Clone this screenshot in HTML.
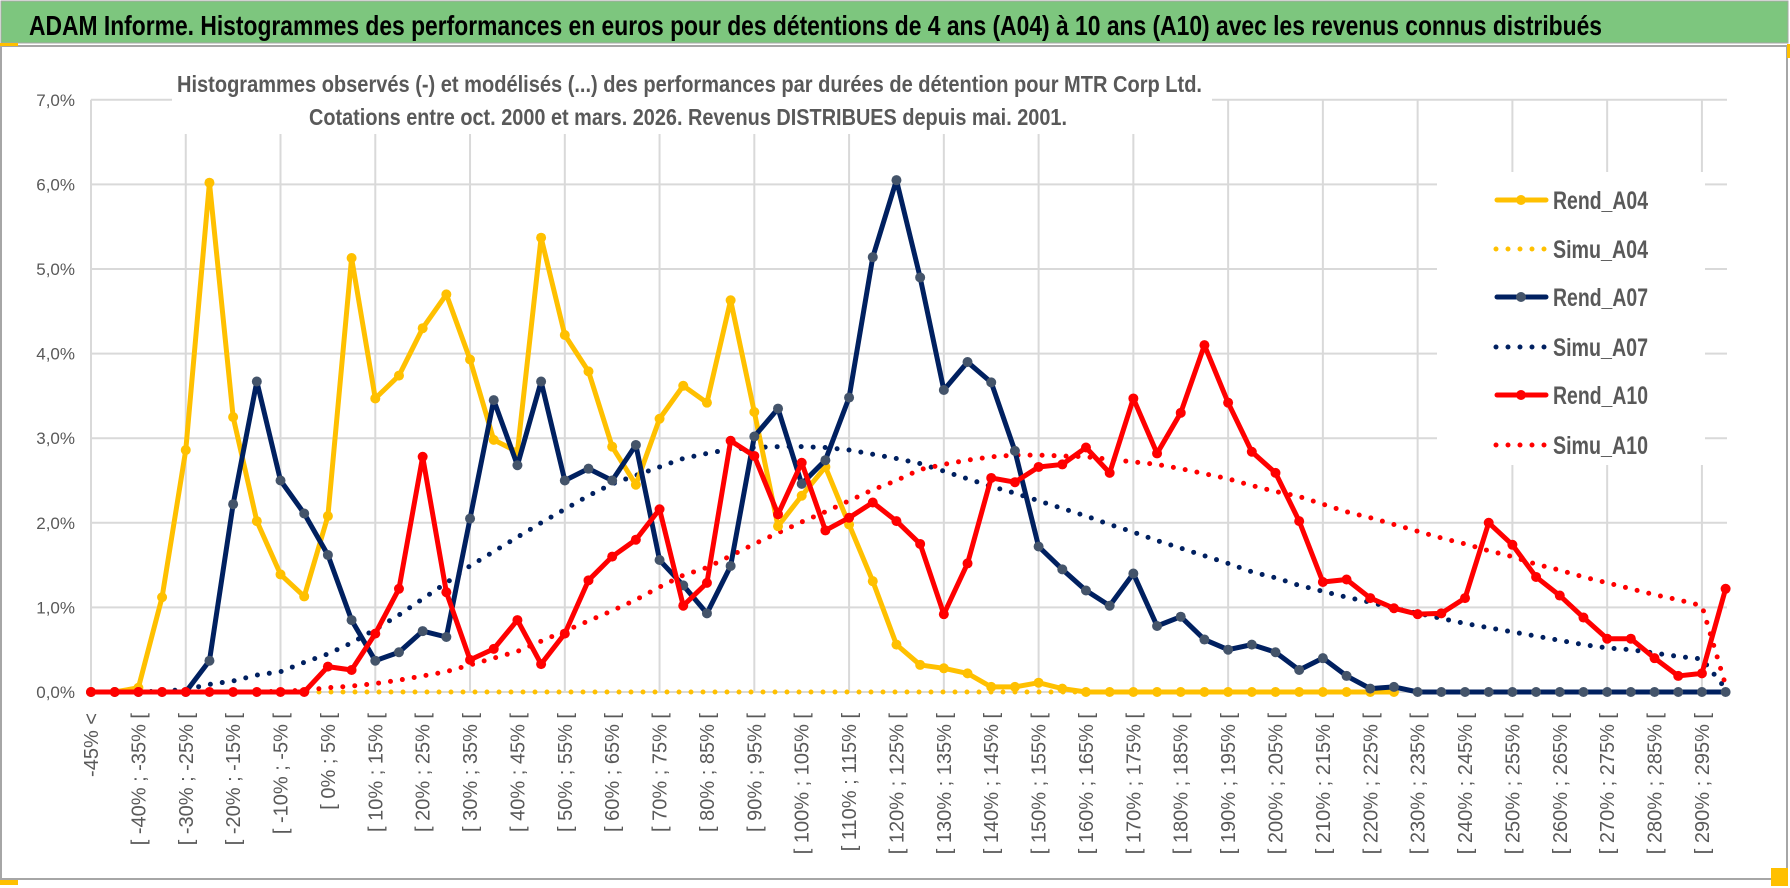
<!DOCTYPE html>
<html><head><meta charset="utf-8"><style>
html,body{margin:0;padding:0;background:#fff;}
svg{display:block;}
text{font-family:"Liberation Sans",sans-serif;}
</style></head><body>
<svg id="chart" width="1790" height="888" viewBox="0 0 1790 888" xmlns="http://www.w3.org/2000/svg">
  <rect x="0" y="0" width="1790" height="888" fill="#fff"/>
  <rect x="1" y="1" width="1787" height="42" fill="#7DC67E" stroke="#a6a6a6" stroke-width="1"/>
  <text x="29" y="35" font-size="28" font-weight="bold" fill="#000" textLength="1573" lengthAdjust="spacingAndGlyphs">ADAM Informe. Histogrammes des performances en euros pour des détentions de 4 ans (A04) à 10 ans (A10) avec les revenus connus distribués</text>
  <rect x="1" y="46" width="1786" height="833" fill="none" stroke="#a6a6a6" stroke-width="2"/>
  <rect x="0" y="43" width="18" height="3" fill="#FFC000"/>
  <rect x="0" y="880" width="18" height="5" fill="#FFC000"/>
  <rect x="1771" y="868" width="17" height="18" fill="#FFC000"/>
  <rect x="1787" y="44" width="3" height="14" fill="#FFC000"/>
  <g id="grid"></g>
  <g id="series"></g>
  <rect x="172" y="62" width="1040" height="72" fill="#fff"/>
  <text x="177" y="92" font-size="23" font-weight="bold" fill="#595959" textLength="1025" lengthAdjust="spacingAndGlyphs">Histogrammes observés (-) et modélisés (...) des performances par durées de détention pour MTR Corp Ltd.</text>
  <text x="309" y="125" font-size="23" font-weight="bold" fill="#595959" textLength="758" lengthAdjust="spacingAndGlyphs">Cotations entre oct. 2000 et mars. 2026. Revenus DISTRIBUES depuis mai. 2001.</text>
  <g id="ylabels"></g>
  <g id="xlabels"></g>
  <g id="legend"></g>
</svg>
<script>
const categories = [];
const xTickLabels = ["-45% <"];
for (let i = 1; i < 70; i++) { const a = -45 + 5 * (i - 1); categories.push(a); }
const yTicks = [0, 1, 2, 3, 4, 5, 6, 7];
const yTickLabels = ["0,0%", "1,0%", "2,0%", "3,0%", "4,0%", "5,0%", "6,0%", "7,0%"];
const seriesNames = ["Rend_A04", "Simu_A04", "Rend_A07", "Simu_A07", "Rend_A10", "Simu_A10"];

const rendA04 = [0,0,0.05,1.12,2.86,6.02,3.25,2.02,1.39,1.13,2.08,5.13,3.47,3.74,4.30,4.70,3.93,2.98,2.84,5.37,4.22,3.79,2.90,2.45,3.23,3.62,3.42,4.63,3.31,1.96,2.32,2.66,1.98,1.31,0.56,0.32,0.28,0.22,0.06,0.06,0.11,0.04,0,0,0,0,0,0,0,0,0,0,0,0,0,0];
const simuA04 = [0,0,0,0,0,0,0,0,0,0,0,0,0,0,0,0,0,0,0,0,0,0,0,0,0,0,0,0,0,0,0,0,0,0,0,0,0,0,0,0,0,0,0,0,0,0,0,0,0,0,0,0,0,0,0,0];
const rendA07 = [0,0,0,0,0,0.37,2.22,3.67,2.50,2.11,1.62,0.85,0.37,0.47,0.72,0.65,2.05,3.45,2.68,3.67,2.50,2.64,2.50,2.92,1.56,1.26,0.93,1.49,3.02,3.35,2.46,2.74,3.48,5.14,6.05,4.90,3.57,3.90,3.66,2.85,1.72,1.45,1.20,1.02,1.40,0.78,0.89,0.62,0.50,0.56,0.47,0.26,0.40,0.19,0.04,0.06,0,0,0,0,0,0,0,0,0,0,0,0,0,0];
const simuA07 = [0,0,0,0.01,0.03,0.09,0.13,0.20,0.24,0.35,0.45,0.58,0.74,0.91,1.10,1.29,1.49,1.66,1.83,2.00,2.16,2.32,2.46,2.56,2.66,2.76,2.82,2.87,2.89,2.90,2.90,2.89,2.86,2.81,2.76,2.70,2.61,2.52,2.43,2.35,2.26,2.17,2.08,1.98,1.89,1.79,1.70,1.61,1.52,1.42,1.35,1.26,1.19,1.12,1.06,0.99,0.93,0.87,0.81,0.76,0.71,0.66,0.61,0.56,0.52,0.50,0.46,0.42,0.39,0.04];
const rendA10 = [0,0,0,0,0,0,0,0,0,0,0.30,0.26,0.69,1.22,2.78,1.18,0.38,0.51,0.85,0.33,0.69,1.32,1.60,1.80,2.16,1.02,1.29,2.97,2.79,2.10,2.71,1.91,2.06,2.24,2.02,1.75,0.92,1.52,2.53,2.48,2.66,2.69,2.89,2.59,3.47,2.82,3.30,4.10,3.42,2.84,2.59,2.02,1.30,1.33,1.11,0.99,0.92,0.93,1.11,2.00,1.74,1.36,1.14,0.88,0.63,0.63,0.40,0.19,0.22,1.22];
const simuA10 = [0,0,0,0,0,0,0,0,0.01,0.02,0.05,0.07,0.10,0.14,0.19,0.24,0.32,0.40,0.48,0.60,0.72,0.84,0.96,1.09,1.24,1.38,1.47,1.61,1.75,1.88,2.01,2.13,2.26,2.39,2.50,2.63,2.69,2.74,2.78,2.80,2.80,2.79,2.78,2.75,2.72,2.69,2.64,2.58,2.52,2.44,2.37,2.31,2.22,2.13,2.06,1.98,1.90,1.82,1.75,1.67,1.60,1.51,1.44,1.36,1.29,1.22,1.15,1.09,1.02,0.08];

const NS = "http://www.w3.org/2000/svg";
const X0 = 91, STEP = 23.69, Y0 = 692, YPER = 84.6, XEND = 1727;
function xScale(i) { return X0 + STEP * i; }
function yScale(v) { return Y0 - v * YPER; }
function mk(tag, attrs, parent) {
  const e = document.createElementNS(NS, tag);
  for (const k in attrs) e.setAttribute(k, attrs[k]);
  parent.appendChild(e);
  return e;
}
const grid = document.getElementById('grid');
yTicks.forEach((t, k) => {
  const l = mk('line', {x1: X0, x2: XEND, y1: yScale(t), y2: yScale(t), stroke: '#d9d9d9', 'stroke-width': 2}, grid);
  
  
});
for (let i = 0; i < 70; i += 4) {
  const l = mk('line', {x1: xScale(i), x2: xScale(i), y1: yScale(7), y2: Y0, stroke: '#d9d9d9', 'stroke-width': 2}, grid);
  
  
}
const ylab = document.getElementById('ylabels');
yTicks.forEach((t, k) => {
  const tx = mk('text', {x: 75, y: yScale(t) + 6, 'text-anchor': 'end', 'font-size': 17, fill: '#595959'}, ylab);
  tx.textContent = yTickLabels[k];
  
  
});
const xlab = document.getElementById('xlabels');
for (let i = 0; i < 70; i += 2) {
  let s;
  if (i === 0) s = xTickLabels[0];
  else { const a = categories[i - 1]; s = "[ " + a + "% ; " + (a + 5) + "% ["; }
  const px = xScale(i) + 7;
  const tx = mk('text', {x: px, y: 713, 'text-anchor': 'end', 'font-size': 20, fill: '#595959', transform: 'rotate(-90 ' + px + ' 713)'}, xlab);
  tx.textContent = s;
  
  
}
const sg = document.getElementById('series');
function pts(arr) { return arr.map((v, i) => xScale(i) + ',' + yScale(v)).join(' '); }
function dotted(arr, color, name) {
  const p = mk('polyline', {points: pts(arr), fill: 'none', stroke: color, 'stroke-width': 5, 'stroke-linecap': 'round', 'stroke-dasharray': '0 12'}, sg);
  
  
}
function solid(arr, color, mcolor, name) {
  const g = mk('g', {}, sg);
  
  
  mk('polyline', {points: pts(arr), fill: 'none', stroke: color, 'stroke-width': 5, 'stroke-linejoin': 'round'}, g);
  arr.forEach((v, i) => {
    const c = mk('circle', {cx: xScale(i), cy: yScale(v), r: 5, fill: mcolor}, g);
    
    
  });
}
dotted(simuA04, '#FFC000', 'simu-a04-line');
dotted(simuA07, '#002060', 'simu-a07-line');
dotted(simuA10, '#FF0000', 'simu-a10-line');
solid(rendA04, '#FFC000', '#FFC000', 'rend-a04-line');
solid(rendA07, '#002060', '#44546A', 'rend-a07-line');
solid(rendA10, '#FF0000', '#FF0000', 'rend-a10-line');

const lg = document.getElementById('legend');
mk('rect', {x: 1437, y: 172, width: 268, height: 293, fill: '#fff'}, lg);
const legY = [200, 249, 297, 347, 395, 445];
const legColors = ['#FFC000', '#FFC000', '#002060', '#002060', '#FF0000', '#FF0000'];
const legMark = ['#FFC000', null, '#44546A', null, '#FF0000', null];
seriesNames.forEach((n, k) => {
  const g = mk('g', {}, lg);
  
  
  const y = legY[k];
  if (k % 2 === 0) {
    mk('line', {x1: 1497, x2: 1546, y1: y, y2: y, stroke: legColors[k], 'stroke-width': 5, 'stroke-linecap': 'round'}, g);
    mk('circle', {cx: 1521, cy: y, r: 5, fill: legMark[k]}, g);
  } else {
    mk('line', {x1: 1496, x2: 1546, y1: y, y2: y, stroke: legColors[k], 'stroke-width': 5, 'stroke-linecap': 'round', 'stroke-dasharray': '0 12'}, g);
  }
  const t = mk('text', {x: 1553, y: y + 9, 'font-size': 25, 'font-weight': 'bold', fill: '#595959', textLength: 95, lengthAdjust: 'spacingAndGlyphs'}, g);
  t.textContent = n;
});
</script>
</body></html>
